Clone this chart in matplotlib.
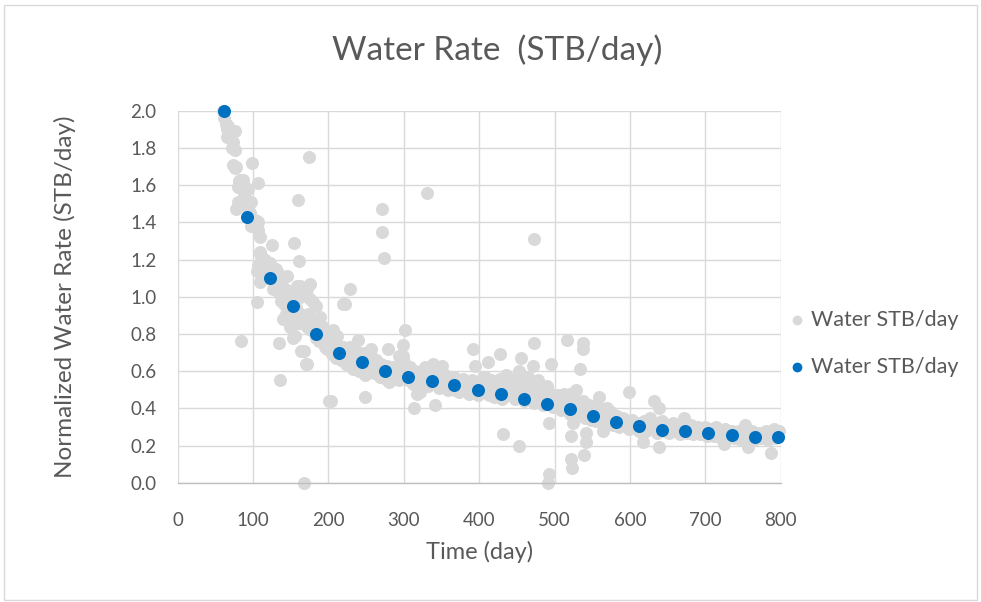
import matplotlib
matplotlib.use("Agg")
import matplotlib.pyplot as plt
from matplotlib.patches import Rectangle

# Raw daily normalized water rates (time in days, rate in STB/day)
raw_t = [
    60, 62, 64, 65, 66, 67, 69, 72, 74, 74, 76, 76, 76, 78, 78, 80, 80, 82, 83, 84,
    85, 87, 88, 89, 91, 94, 94, 96, 98, 98, 99, 100, 103, 105, 105, 105, 106, 107, 107, 107,
    109, 109, 109, 109, 111, 111, 112, 114, 116, 117, 119, 120, 122, 123, 125, 126, 127, 129, 131, 131,
    132, 133, 135, 135, 136, 137, 138, 140, 140, 140, 141, 142, 143, 144, 145, 146, 148, 149, 151, 151,
    153, 154, 155, 156, 157, 158, 158, 160, 160, 161, 162, 162, 162, 163, 164, 166, 167, 168, 168, 170,
    171, 171, 172, 173, 174, 175, 175, 175, 177, 180, 180, 183, 184, 186, 188, 189, 190, 191, 193, 193,
    195, 196, 198, 200, 201, 202, 202, 203, 204, 205, 206, 208, 210, 211, 212, 215, 215, 217, 219, 220,
    222, 222, 224, 226, 228, 228, 229, 231, 233, 233, 235, 236, 238, 239, 240, 242, 245, 247, 248, 249,
    252, 254, 256, 257, 259, 259, 261, 263, 266, 268, 270, 271, 271, 273, 274, 276, 278, 279, 281, 281,
    283, 286, 288, 291, 293, 294, 296, 298, 299, 299, 300, 301, 303, 305, 308, 310, 312, 314, 315, 317,
    318, 320, 321, 323, 325, 328, 330, 331, 332, 335, 337, 339, 340, 341, 342, 345, 347, 350, 350, 353,
    355, 358, 360, 363, 366, 368, 371, 373, 376, 378, 381, 383, 386, 388, 391, 392, 393, 394, 396, 398,
    400, 403, 405, 405, 408, 410, 411, 413, 415, 418, 420, 423, 425, 427, 428, 430, 431, 433, 435, 438,
    440, 443, 445, 448, 450, 453, 453, 455, 456, 458, 460, 463, 465, 468, 470, 471, 472, 473, 473, 475,
    478, 480, 483, 485, 488, 490, 491, 492, 493, 493, 495, 495, 498, 500, 503, 505, 508, 510, 513, 515,
    517, 518, 520, 520, 522, 522, 522, 523, 524, 525, 528, 528, 530, 533, 533, 535, 537, 538, 538, 539,
    540, 542, 542, 543, 545, 548, 550, 553, 555, 558, 559, 560, 563, 564, 565, 568, 570, 570, 573, 575,
    578, 580, 583, 585, 588, 590, 593, 595, 598, 598, 600, 603, 606, 609, 612, 615, 617, 618, 621, 624,
    627, 630, 632, 633, 636, 639, 639, 639, 642, 645, 648, 651, 654, 657, 660, 663, 666, 669, 672, 672,
    675, 678, 681, 684, 687, 690, 693, 696, 699, 702, 705, 708, 711, 714, 714, 717, 720, 723, 725, 726,
    729, 732, 735, 738, 741, 744, 747, 750, 753, 753, 756, 756, 759, 762, 765, 768, 771, 774, 777, 780,
    783, 786, 787, 789, 791, 792, 795, 797,
]
raw_q = [
    2.00, 1.96, 1.93, 1.86, 1.90, 1.92, 1.87, 1.80, 1.83, 1.71, 1.89, 1.79, 1.69, 1.70, 1.47, 1.59, 1.51, 1.62, 1.63, 0.76,
    1.58, 1.63, 1.55, 1.53, 1.50, 1.58, 1.47, 1.45, 1.51, 1.38, 1.72, 1.42, 1.40, 1.41, 1.14, 0.97, 1.40, 1.61, 1.36, 1.17,
    1.32, 1.24, 1.08, 1.23, 1.22, 1.12, 1.18, 1.15, 1.20, 1.13, 1.10, 1.17, 1.18, 1.12, 1.28, 1.09, 1.04, 1.07, 1.15, 1.04,
    1.05, 1.13, 1.02, 0.75, 0.55, 0.98, 1.09, 1.01, 0.88, 0.99, 0.96, 1.04, 1.00, 0.91, 1.11, 0.93, 0.97, 0.84, 0.92, 1.03,
    0.78, 1.29, 0.90, 0.79, 0.94, 1.06, 0.86, 0.88, 1.52, 1.19, 1.06, 1.00, 0.91, 0.86, 0.71, 0.86, 0.71, 0.00, 0.89, 0.64,
    1.04, 0.64, 0.84, 0.91, 1.75, 1.07, 0.99, 0.87, 0.82, 0.97, 0.85, 0.78, 0.95, 0.82, 0.76, 0.89, 0.80, 0.84, 0.77, 0.84,
    0.73, 0.75, 0.72, 0.76, 0.44, 0.81, 0.73, 0.72, 0.44, 0.69, 0.82, 0.74, 0.67, 0.79, 0.72, 0.70, 0.68, 0.66, 0.73, 0.96,
    0.68, 0.96, 0.64, 0.70, 1.04, 0.73, 0.66, 0.62, 0.68, 0.61, 0.64, 0.71, 0.64, 0.77, 0.60, 0.67, 0.62, 0.70, 0.46, 0.58,
    0.65, 0.61, 0.68, 0.72, 0.63, 0.66, 0.59, 0.66, 0.61, 0.57, 0.64, 1.47, 1.35, 0.60, 1.21, 0.56, 0.63, 0.72, 0.59, 0.54,
    0.55, 0.62, 0.58, 0.61, 0.55, 0.68, 0.60, 0.57, 0.74, 0.68, 0.65, 0.82, 0.60, 0.55, 0.62, 0.57, 0.53, 0.40, 0.60, 0.48,
    0.56, 0.52, 0.49, 0.59, 0.55, 0.62, 0.57, 1.56, 0.52, 0.59, 0.55, 0.64, 0.61, 0.42, 0.54, 0.58, 0.51, 0.56, 0.63, 0.53,
    0.58, 0.50, 0.55, 0.52, 0.57, 0.50, 0.54, 0.49, 0.53, 0.56, 0.50, 0.54, 0.48, 0.52, 0.55, 0.72, 0.49, 0.63, 0.53, 0.47,
    0.51, 0.54, 0.49, 0.57, 0.57, 0.52, 0.65, 0.47, 0.55, 0.50, 0.46, 0.53, 0.49, 0.69, 0.56, 0.45, 0.26, 0.51, 0.58, 0.47,
    0.53, 0.49, 0.56, 0.45, 0.51, 0.60, 0.20, 0.47, 0.67, 0.54, 0.44, 0.50, 0.57, 0.46, 0.52, 0.63, 1.31, 0.43, 0.75, 0.49,
    0.55, 0.45, 0.50, 0.42, 0.47, 0.52, 0.00, 0.05, 0.43, 0.32, 0.48, 0.64, 0.41, 0.46, 0.42, 0.47, 0.39, 0.44, 0.48, 0.40,
    0.77, 0.45, 0.37, 0.48, 0.42, 0.25, 0.13, 0.08, 0.32, 0.46, 0.38, 0.50, 0.43, 0.36, 0.61, 0.40, 0.75, 0.44, 0.72, 0.15,
    0.35, 0.27, 0.22, 0.39, 0.42, 0.34, 0.38, 0.41, 0.33, 0.37, 0.46, 0.40, 0.33, 0.28, 0.36, 0.39, 0.32, 0.40, 0.35, 0.38,
    0.31, 0.34, 0.36, 0.30, 0.33, 0.35, 0.31, 0.34, 0.29, 0.49, 0.32, 0.34, 0.30, 0.32, 0.28, 0.31, 0.22, 0.33, 0.28, 0.31,
    0.35, 0.29, 0.44, 0.32, 0.27, 0.30, 0.40, 0.19, 0.33, 0.28, 0.31, 0.27, 0.30, 0.32, 0.28, 0.30, 0.26, 0.29, 0.31, 0.35,
    0.27, 0.29, 0.31, 0.26, 0.28, 0.30, 0.26, 0.28, 0.30, 0.25, 0.28, 0.29, 0.25, 0.27, 0.30, 0.29, 0.24, 0.27, 0.21, 0.29,
    0.25, 0.27, 0.28, 0.24, 0.26, 0.28, 0.23, 0.26, 0.28, 0.31, 0.24, 0.19, 0.26, 0.28, 0.23, 0.25, 0.27, 0.24, 0.26, 0.28,
    0.23, 0.25, 0.16, 0.27, 0.29, 0.24, 0.26, 0.28,
]

# Monthly averaged normalized water rates
avg_t = [61, 92, 122, 153, 184, 214, 244, 275, 306, 337, 367, 398, 429,
         459, 490, 520, 551, 581, 612, 642, 673, 704, 735, 766, 796]
avg_q = [2.00, 1.43, 1.10, 0.95, 0.80, 0.70, 0.65, 0.60, 0.57, 0.545, 0.525, 0.50, 0.478,
         0.448, 0.426, 0.395, 0.357, 0.327, 0.306, 0.286, 0.276, 0.267, 0.255, 0.246, 0.244]

title = "Water Rate  (STB/day)"
x_label = "Time (day)"
y_label = "Normalized Water Rate (STB/day)"
legend_labels = ["Water STB/day", "Water STB/day"]
x_ticks = [0, 100, 200, 300, 400, 500, 600, 700, 800]
y_ticks = [0.0, 0.2, 0.4, 0.6, 0.8, 1.0, 1.2, 1.4, 1.6, 1.8, 2.0]

plt.rcParams["font.family"] = ["Lato", "DejaVu Sans"]
text_color = "#595959"
grid_color = "#D9D9D9"

fig = plt.figure(figsize=(9.81, 6.02), dpi=100)
fig.patches.append(Rectangle((0.004, 0.004), 0.992, 0.988, transform=fig.transFigure,
                             fill=False, edgecolor="#D9D9D9", linewidth=1.0))

ax = fig.add_axes([0.181, 0.198, 0.615, 0.618])
ax.scatter(raw_t, raw_q, s=88, color="#D9D9D9", linewidths=0, zorder=2,
           label=legend_labels[0], clip_on=False)
ax.scatter(avg_t, avg_q, s=88, color="#0070C0", linewidths=0, zorder=3,
           label=legend_labels[1], clip_on=False)

ax.set_xlim(0, 800)
ax.set_ylim(0, 2.0)
ax.set_xticks(x_ticks)
ax.set_yticks(y_ticks)
ax.set_xticklabels([str(v) for v in x_ticks])
ax.set_yticklabels([f"{v:.1f}" for v in y_ticks])
ax.grid(True, color=grid_color, linewidth=1.0, zorder=0)
ax.set_axisbelow(True)
for side in ("top", "right", "left"):
    ax.spines[side].set_visible(False)
ax.spines["bottom"].set_color("#BFBFBF")
ax.spines["bottom"].set_linewidth(1.0)
ax.tick_params(axis="both", length=0, labelsize=13.5, labelcolor=text_color)
ax.tick_params(axis="y", pad=15)
ax.tick_params(axis="x", pad=21)

ax.set_xlabel(x_label, fontsize=17, color=text_color)
ax.set_ylabel(y_label, fontsize=17.5, color=text_color)
ax.xaxis.set_label_coords(0.501, -0.157)
ax.yaxis.set_label_coords(-0.168, 0.5)
fig.text(0.507, 0.917, title, ha="center", va="center", fontsize=24, color=text_color)

leg = ax.legend(loc="center left", bbox_to_anchor=(0.801, 0.43), bbox_transform=fig.transFigure,
                frameon=False, fontsize=15.5, markerscale=0.75, handlelength=1.0,
                handletextpad=0.15, labelspacing=1.25, borderaxespad=0, borderpad=0)
for t in leg.get_texts():
    t.set_color(text_color)

fig.savefig("out.png", dpi=100)
